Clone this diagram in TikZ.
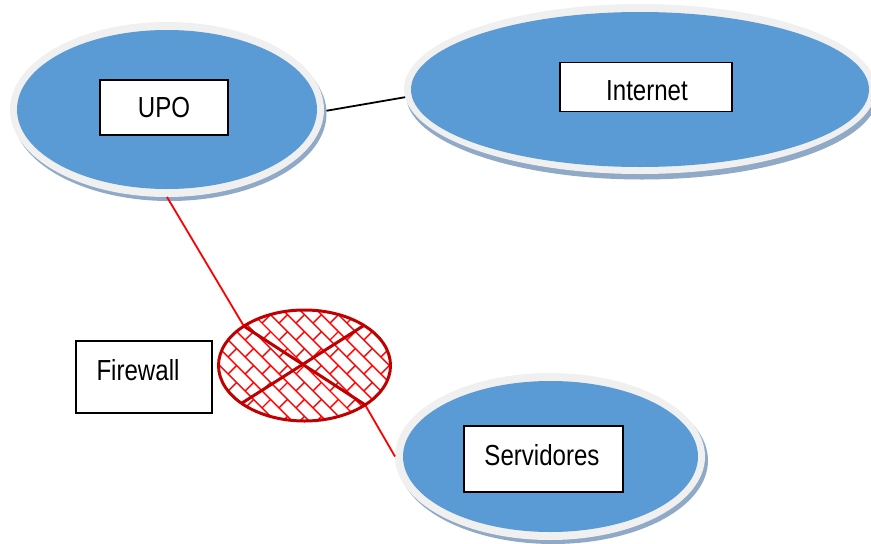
\documentclass[tikz,border=0pt]{standalone}
\usepackage{fontspec}
\setmainfont{Liberation Sans}[FakeStretch=0.83]
\usetikzlibrary{shapes.geometric}
\definecolor{discblue}{HTML}{5B9BD5}
\definecolor{discrim}{HTML}{F0F0F0}
\definecolor{discshadow}{HTML}{8FA9C6}
\definecolor{fwdark}{HTML}{C00000}
\tikzset{
  rimdisc/.style={ellipse,fill=discrim,inner sep=0pt,outer sep=0pt},
  shadowdisc/.style={ellipse,fill=discshadow,inner sep=0pt,outer sep=0pt},
  bluedisc/.style={ellipse,fill=discblue,inner sep=0pt,outer sep=0pt},
  labelbox/.style={draw=black,line width=1.8pt,fill=white,inner sep=0pt,outer sep=0pt},
  labeltext/.style={inner sep=0pt,font=\fontsize{29}{34}\selectfont},
  link/.style={line width=1.8pt,red},
  hatch/.style={red,line width=1.4pt},
  fwline/.style={fwdark,line width=3pt},
}
\begin{document}
\begin{tikzpicture}[x=1pt,y=-1pt]
\useasboundingbox (0,0) rectangle (871,544);
% shadows and rims
\node[shadowdisc,minimum width=314pt,minimum height=175pt] (upoS) at (169.5,113.5) {};
\node[shadowdisc,minimum width=472pt,minimum height=170pt] (netS) at (642,94.5) {};
\node[shadowdisc,minimum width=310pt,minimum height=167pt] (srvS) at (553,460.5) {};
\node[rimdisc,minimum width=314pt,minimum height=175pt] (upoR) at (167,109.5) {};
\node[rimdisc,minimum width=472pt,minimum height=170pt] (netR) at (640,89) {};
\node[rimdisc,minimum width=310pt,minimum height=167pt] (srvR) at (550,456.5) {};
% Firewall body
\node[ellipse,fill=white,inner sep=0pt,outer sep=0pt,minimum width=172pt,minimum height=111pt] (fw) at (304.5,365.5) {};
% Connectors
\draw[line width=1.8pt,black] (upoS.1) -- (netR.182.5);
\draw[link] (upoR.270) -- (fw.147);
\draw[link] (fw.327) -- (srvR.180);
% blue faces
\node[bluedisc,minimum width=300pt,minimum height=159pt] (upoB) at (167,109.5) {};
\node[bluedisc,minimum width=458pt,minimum height=155pt] (netB) at (640,89.5) {};
\node[bluedisc,minimum width=295pt,minimum height=151pt] (srvB) at (550.5,456.5) {};
% Firewall hatching
\begin{scope}
\clip (304.5,365.5) ellipse [x radius=86,y radius=55.5];
\begin{scope}[shift={(304.5,365.5)},rotate=-45]
\foreach \k in {-9,...,9}{
  \draw[hatch] (-110,12*\k) -- (110,12*\k);
  \pgfmathsetmacro{\off}{12*mod(\k+20,2)}
  \foreach \m in {-5,...,5}{
    \draw[hatch] (24*\m+\off,12*\k) -- ++(0,12);
  }
}
\end{scope}
\end{scope}
\draw[fwline] (304.5,365.5) ellipse [x radius=86,y radius=55.5];
\draw[fwline] (fw.147) -- (fw.327);
\draw[fwline] (fw.34) -- (fw.211);
% Labels
\node[labelbox,minimum width=128pt,minimum height=55pt] (upoL) at (164,107.5) {};
\node[labeltext] (upoT) at (164,108) {UPO};
\node[labelbox,minimum width=172pt,minimum height=49pt] (netL) at (646,87) {};
\node[labeltext] (netT) at (647,91) {Internet};
\node[labelbox,minimum width=159pt,minimum height=66pt] (srvL) at (543.5,459) {};
\node[labeltext] (srvT) at (542,455) {Servidores};
\node[labelbox,minimum width=136pt,minimum height=72pt] (fwL) at (144,377) {};
\node[labeltext] (fwT) at (138,370) {Firewall};
\end{tikzpicture}
\end{document}
